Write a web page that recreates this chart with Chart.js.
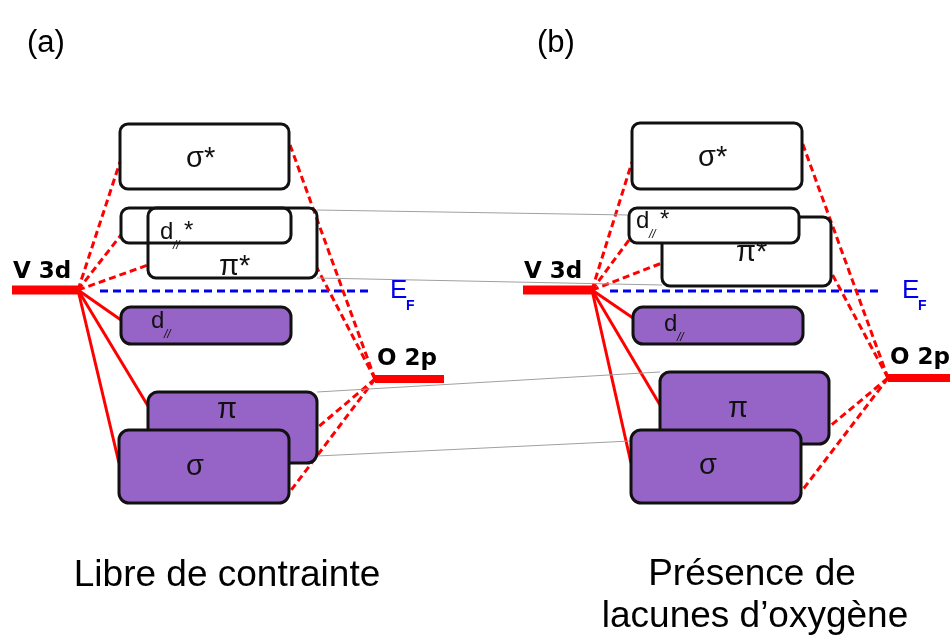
<!DOCTYPE html>
<html>
<head>
<meta charset="utf-8">
<style>
  html, body { margin: 0; padding: 0; background: #fff; }
  canvas { display: block; }
</style>
</head>
<body>
<canvas id="moChart" width="950" height="635"></canvas>
<script src="https://cdn.jsdelivr.net/npm/chart.js@4/dist/chart.umd.min.js"></script>
<script>
// molecular orbital levels, top to bottom
const levelNames = ['σ*', 'd//*', 'π*', 'd//', 'π', 'σ'];
const antibonding = [true, true, true, false, false, false];

// (a) libre de contrainte : band extents in diagram units
const boxLeftA = [120, 121, 148, 121, 148, 119];
const boxRightA = [289, 291, 317, 291, 317, 289];
const boxTopA = [124, 208, 208, 307, 392, 430];
const boxBottomA = [189, 243, 278, 344, 463, 503];

// (b) lacunes d'oxygène
const boxLeftB = [632, 629, 662, 633, 660, 631];
const boxRightB = [802, 799, 831, 803, 829, 801];
const boxTopB = [123, 208, 217, 307, 372, 430];
const boxBottomB = [189, 243, 286, 344, 444, 503];

// atomic levels and Fermi level
const v3dLevel = [290, 290];
const v3dSpanA = [12, 78];
const v3dSpanB = [523, 592];
const o2pLevel = [379, 378];
const o2pSpanA = [375, 444];
const o2pSpanB = [888, 950];
const fermiLevel = [291, 291];
const fermiSpanA = [100, 370];
const fermiSpanB = [610, 882];

// where the V 3d lines meet each band (left edge)
const v3dAnchorA = [162, 235, 265, 320, 406, 463];
const v3dAnchorB = [162, 240, 263, 318, 405, 463];

// O 2p lines meet these bands (right edge)
const o2pBands = [0, 2, 4, 5];
const o2pAnchorA = [142, 268, 428, 493];
const o2pAnchorB = [142, 272, 427, 492];

// thin grey links from (a) to (b)
const linkFromBand = [2, 2, 4, 4];
const linkFromY = [210, 278, 392, 456];
const linkToBand = [1, 2, 4, 5];
const linkToY = [215, 285, 372, 441];

const RED = '#ff0000';
const BLUE = '#0000ee';
const PURPLE = '#9664c6';
const LINE_FONT = '"Liberation Sans", Arial, sans-serif';
const ATOM_FONT = '"DejaVu Sans", sans-serif';

const panels = [
    {
        left: boxLeftA, right: boxRightA, top: boxTopA, bottom: boxBottomA,
        v3d: v3dSpanA, o2p: o2pSpanA, fermi: fermiSpanA,
        v3dAnchor: v3dAnchorA, o2pAnchor: o2pAnchorA,
        opaque: false,
        order: [0, 2, 1, 3, 4, 5],
        labels: [[186, 167], [160, 239], [219, 275], [151, 328], [217, 418], [186, 475]]
    },
    {
        left: boxLeftB, right: boxRightB, top: boxTopB, bottom: boxBottomB,
        v3d: v3dSpanB, o2p: o2pSpanB, fermi: fermiSpanB,
        v3dAnchor: v3dAnchorB, o2pAnchor: o2pAnchorB,
        opaque: true,
        order: [0, 2, 1, 3, 4, 5],
        labels: [[698, 166], [636, 228], [736, 261], [664, 331], [728, 417], [699, 474]]
    }
];

const seg = (x0, y0, x1, y1, color, width, dash) => ({
    data: [{ x: x0, y: y0 }, { x: x1, y: y1 }],
    showLine: true,
    borderColor: color,
    borderWidth: width,
    borderDash: dash || [],
    borderCapStyle: 'butt',
    pointRadius: 0,
    fill: false,
    clip: false
});

const datasets = [];

// grey links between the two diagrams
linkFromBand.forEach((bi, k) => {
    datasets.push(seg(boxRightA[bi], linkFromY[k], boxLeftB[linkToBand[k]], linkToY[k], '#a0a0a0', 1));
});

panels.forEach((p, pi) => {
    const vx = p.v3d[1], vy = v3dLevel[pi];
    levelNames.forEach((name, i) => {
        datasets.push(seg(vx, vy, p.left[i], p.v3dAnchor[i], RED, 3, antibonding[i] ? [7, 4] : []));
    });
    const ox = p.o2p[0], oy = o2pLevel[pi];
    o2pBands.forEach((bi, k) => {
        datasets.push(seg(ox, oy, p.right[bi], p.o2pAnchor[k], RED, 3, [7, 4]));
    });
    datasets.push(seg(p.fermi[0], fermiLevel[pi], p.fermi[1], fermiLevel[pi], BLUE, 3, [8, 5]));
    datasets.push(seg(p.v3d[0], vy, p.v3d[1], vy, RED, 9));
    datasets.push(seg(p.o2p[0], oy, p.o2p[1], oy, RED, 8));
});

const drawLevelLabel = (ctx, name, x, y) => {
    ctx.fillStyle = '#111';
    ctx.textBaseline = 'alphabetic';
    ctx.textAlign = 'left';
    if (name.startsWith('d//')) {
        ctx.font = '24px ' + LINE_FONT;
        ctx.fillText('d', x, y);
        ctx.font = 'italic 12px ' + LINE_FONT;
        ctx.fillText('//', x + 13, y + 10);
        if (name.endsWith('*')) {
            ctx.font = '24px ' + LINE_FONT;
            ctx.fillText('*', x + 24, y - 1);
        }
    } else {
        ctx.font = '29px ' + LINE_FONT;
        ctx.fillText(name, x, y);
    }
};

const moDiagram = {
    id: 'moDiagram',
    afterDatasetsDraw(chart) {
        const { ctx, scales: { x, y } } = chart;
        const px = v => x.getPixelForValue(v);
        const py = v => y.getPixelForValue(v);
        ctx.save();

        panels.forEach((p, pi) => {
            p.order.forEach(i => {
                const l = px(p.left[i]), r = px(p.right[i]);
                const t = py(p.top[i]), b = py(p.bottom[i]);
                ctx.beginPath();
                ctx.roundRect(l, t, r - l, b - t, antibonding[i] ? 8 : 10);
                if (!antibonding[i]) {
                    ctx.fillStyle = PURPLE;
                    ctx.fill();
                } else if (p.opaque) {
                    ctx.fillStyle = '#fff';
                    ctx.fill();
                }
                ctx.lineWidth = 3;
                ctx.strokeStyle = '#111';
                ctx.stroke();
                drawLevelLabel(ctx, levelNames[i], p.labels[i][0], p.labels[i][1]);
            });

            // atomic level labels
            ctx.fillStyle = '#000';
            ctx.font = 'bold 23px ' + ATOM_FONT;
            ctx.fillText('V 3d', px(p.v3d[0]) + 1, py(v3dLevel[pi]) - 12);
            ctx.fillText('O 2p', px(p.o2p[0]) + 2, py(o2pLevel[pi]) - 14);

            // Fermi level label
            ctx.fillStyle = BLUE;
            ctx.font = '26px ' + LINE_FONT;
            const ex = px(p.fermi[1]) + 20;
            ctx.fillText('E', ex, py(fermiLevel[pi]) + 7);
            ctx.font = 'bold 14px ' + LINE_FONT;
            ctx.fillText('F', ex + 16, py(fermiLevel[pi]) + 19);
        });

        // panel tags and captions
        ctx.fillStyle = '#000';
        ctx.font = '31px "Liberation Sans Narrow", ' + LINE_FONT;
        ctx.fillText('(a)', 27, 52);
        ctx.fillText('(b)', 537, 52);

        ctx.font = '37px ' + LINE_FONT;
        ctx.textAlign = 'center';
        ctx.fillText('Libre de contrainte', 227, 586);
        ctx.fillText('Présence de', 752, 585);
        ctx.fillText('lacunes d’oxygène', 755, 627);
        ctx.restore();
    }
};

new Chart(document.getElementById('moChart'), {
    type: 'scatter',
    data: { datasets },
    options: {
        responsive: false,
        animation: false,
        devicePixelRatio: 1,
        layout: { padding: 0 },
        plugins: {
            legend: { display: false },
            tooltip: { enabled: false }
        },
        scales: {
            x: { type: 'linear', min: 0, max: 950, display: false },
            y: { type: 'linear', min: 0, max: 635, reverse: true, display: false }
        }
    },
    plugins: [moDiagram]
});
</script>
</body>
</html>
